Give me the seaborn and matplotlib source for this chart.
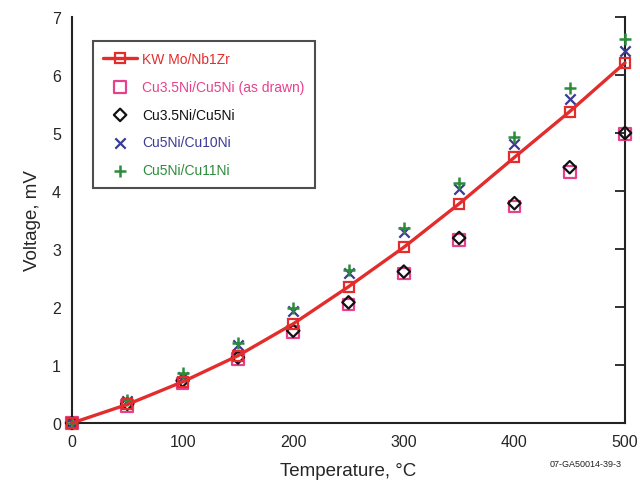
import matplotlib
matplotlib.use("Agg")
import matplotlib.pyplot as plt
import seaborn as sns
import numpy as np
import pandas as pd

temps = [0, 50, 100, 150, 200, 250, 300, 350, 400, 450, 500]
kw_mo_nb1zr = [0.0, 0.32, 0.71, 1.16, 1.71, 2.35, 3.03, 3.78, 4.58, 5.37, 6.21]
cu35_cu5_drawn = [0.0, 0.29, 0.68, 1.10, 1.57, 2.04, 2.58, 3.16, 3.73, 4.33, 4.98]
cu35_cu5 = [0.0, 0.33, 0.73, 1.13, 1.59, 2.08, 2.61, 3.19, 3.79, 4.41, 5.00]
cu5_cu10 = [0.0, 0.38, 0.80, 1.35, 1.93, 2.59, 3.29, 4.03, 4.81, 5.59, 6.41]
cu5_cu11 = [0.0, 0.40, 0.87, 1.38, 1.99, 2.64, 3.37, 4.14, 4.93, 5.77, 6.62]

labels = ["KW Mo/Nb1Zr", "Cu3.5Ni/Cu5Ni (as drawn)", "Cu3.5Ni/Cu5Ni",
          "Cu5Ni/Cu10Ni", "Cu5Ni/Cu11Ni"]
colors = ["#e32d2d", "#e8418c", "#111111", "#3b3b95", "#2b8c3c"]

sns.set_style("white")
plt.rcParams['font.family'] = ['Liberation Sans', 'DejaVu Sans']

fig = plt.figure(figsize=(6.4, 4.81), dpi=100)
ax = fig.add_axes([0.1125, 0.1185, 0.8641, 0.8441])

df = pd.DataFrame({"T": temps, "kw": kw_mo_nb1zr, "drawn": cu35_cu5_drawn,
                   "d": cu35_cu5, "x": cu5_cu10, "p": cu5_cu11})

sns.scatterplot(data=df, x="T", y="drawn", ax=ax, marker="s", s=70,
                facecolor="none", edgecolor=colors[1], linewidth=1.6,
                label=labels[1], zorder=3, clip_on=False)
sns.scatterplot(data=df, x="T", y="d", ax=ax, marker="D", s=40,
                facecolor="none", edgecolor=colors[2], linewidth=1.6,
                label=labels[2], zorder=4, clip_on=False)
sns.scatterplot(data=df, x="T", y="x", ax=ax, marker="x", s=55,
                color=colors[3], linewidth=1.6, label=labels[3], zorder=4,
                clip_on=False)
sns.scatterplot(data=df, x="T", y="p", ax=ax, marker="+", s=70,
                color=colors[4], linewidth=1.8, label=labels[4], zorder=4,
                clip_on=False)
sns.lineplot(data=df, x="T", y="kw", ax=ax, color=colors[0], linewidth=2.4,
             marker="s", markersize=7, markerfacecolor="none",
             markeredgecolor=colors[0], markeredgewidth=1.6,
             label=labels[0], zorder=5, clip_on=False)

ax.set_xlim(0, 500)
ax.set_ylim(0, 7)
ax.set_xticks([0, 100, 200, 300, 400, 500])
ax.set_yticks(range(0, 8))
ax.set_xlabel("Temperature, °C", fontsize=13.5, labelpad=9)
ax.set_ylabel("Voltage, mV", fontsize=13.5, labelpad=8)
ax.tick_params(axis="both", labelsize=11.5, direction="in", length=7,
               width=1.3, color="#222222")
ax.tick_params(axis="x", pad=8)
ax.tick_params(axis="y", pad=8)
ax.tick_params(axis="y", right=True)
for side in ["left", "bottom", "right"]:
    ax.spines[side].set_visible(True)
    ax.spines[side].set_linewidth(1.5)
    ax.spines[side].set_color("#222222")
    ax.spines[side].set_zorder(2)
ax.spines["top"].set_visible(False)

handles, labs = ax.get_legend_handles_labels()
order = [labs.index(l) for l in labels]
leg = ax.legend([handles[i] for i in order], [labs[i] for i in order],
                loc="upper left", bbox_to_anchor=(0.038, 0.94),
                fontsize=10, frameon=True, fancybox=False,
                edgecolor="#222222", borderpad=0.75, labelspacing=1.0,
                handlelength=2.4, handletextpad=0.4, borderaxespad=0)
leg.get_frame().set_linewidth(1.5)
for t, c in zip(leg.get_texts(), colors):
    t.set_color(c)

fig.text(0.972, 0.035, "07-GA50014-39-3", fontsize=6.5, ha="right",
         va="center", color="#222222")

fig.savefig("out.png", dpi=100)
